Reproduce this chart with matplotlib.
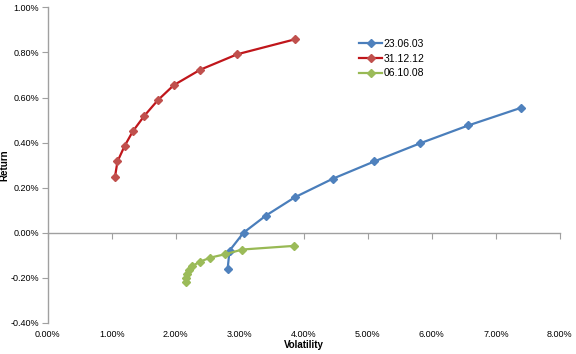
import matplotlib
matplotlib.use("Agg")
import matplotlib.pyplot as plt
from matplotlib.ticker import FuncFormatter, MultipleLocator

plt.rcParams['font.family'] = ['Liberation Sans', 'DejaVu Sans']

# volatility / return in percent
vol_030623 = [2.81, 2.84, 3.06, 3.41, 3.86, 4.45, 5.10, 5.82, 6.57, 7.39]
ret_030623 = [-0.163, -0.080, 0.000, 0.076, 0.157, 0.239, 0.316, 0.397, 0.476, 0.554]

vol_121231 = [1.05, 1.09, 1.20, 1.33, 1.51, 1.72, 1.97, 2.38, 2.96, 3.87]
ret_121231 = [0.246, 0.316, 0.384, 0.450, 0.519, 0.588, 0.655, 0.723, 0.792, 0.859]

vol_081006 = [2.16, 2.16, 2.18, 2.21, 2.26, 2.38, 2.54, 2.77, 3.04, 3.84]
ret_081006 = [-0.218, -0.203, -0.184, -0.166, -0.148, -0.129, -0.111, -0.096, -0.075, -0.059]

series = [
    ("23.06.03", vol_030623, ret_030623, "#4A7EBB", "#4F81BD"),
    ("31.12.12", vol_121231, ret_121231, "#C0161B", "#C0504D"),
    ("06.10.08", vol_081006, ret_081006, "#98B954", "#9BBB59"),
]

fig = plt.figure(figsize=(5.76, 3.54), dpi=100)
ax = fig.add_axes([0.0828, 0.0884, 0.972 - 0.0828, 0.979 - 0.0884])

for name, x, y, lc, mc in series:
    ax.plot(x, y, color=lc, lw=1.6, marker="D", ms=4, mfc=mc, mec=mc, label=name)

ax.set_xlim(0, 8)
ax.set_ylim(-0.4, 1.0)
ax.xaxis.set_major_locator(MultipleLocator(1))
ax.yaxis.set_major_locator(MultipleLocator(0.2))
pct = FuncFormatter(lambda v, p: f"{v:.2f}%")
ax.xaxis.set_major_formatter(pct)
ax.yaxis.set_major_formatter(pct)

for s in ["top", "right", "bottom"]:
    ax.spines[s].set_visible(False)
ax.spines["left"].set_color("#A0A0A0")
ax.spines["left"].set_linewidth(1.0)
ax.tick_params(axis="y", length=4, color="#A0A0A0", labelsize=6.5, pad=2)
ax.tick_params(axis="x", length=0, labelsize=6.5, pad=5)

# horizontal axis line at zero with its tick marks
zero = ax.secondary_xaxis(0.4 / 1.4)
zero.xaxis.set_major_locator(MultipleLocator(1))
zero.spines["bottom"].set_color("#A0A0A0")
zero.spines["bottom"].set_linewidth(1.0)
zero.tick_params(axis="x", length=4, color="#A0A0A0", labelbottom=False)

ax.set_xlabel("Volatility", fontsize=7, fontweight="bold", labelpad=1)
ax.set_ylabel("Return", fontsize=7, fontweight="bold")
ax.yaxis.set_label_coords(-0.075, 0.5)

ax.legend(loc="upper left", bbox_to_anchor=(0.59, 0.93), frameon=False,
          fontsize=7.5, handlelength=2.2, handletextpad=0.1, labelspacing=0.45)

fig.savefig("out.png", dpi=100)
